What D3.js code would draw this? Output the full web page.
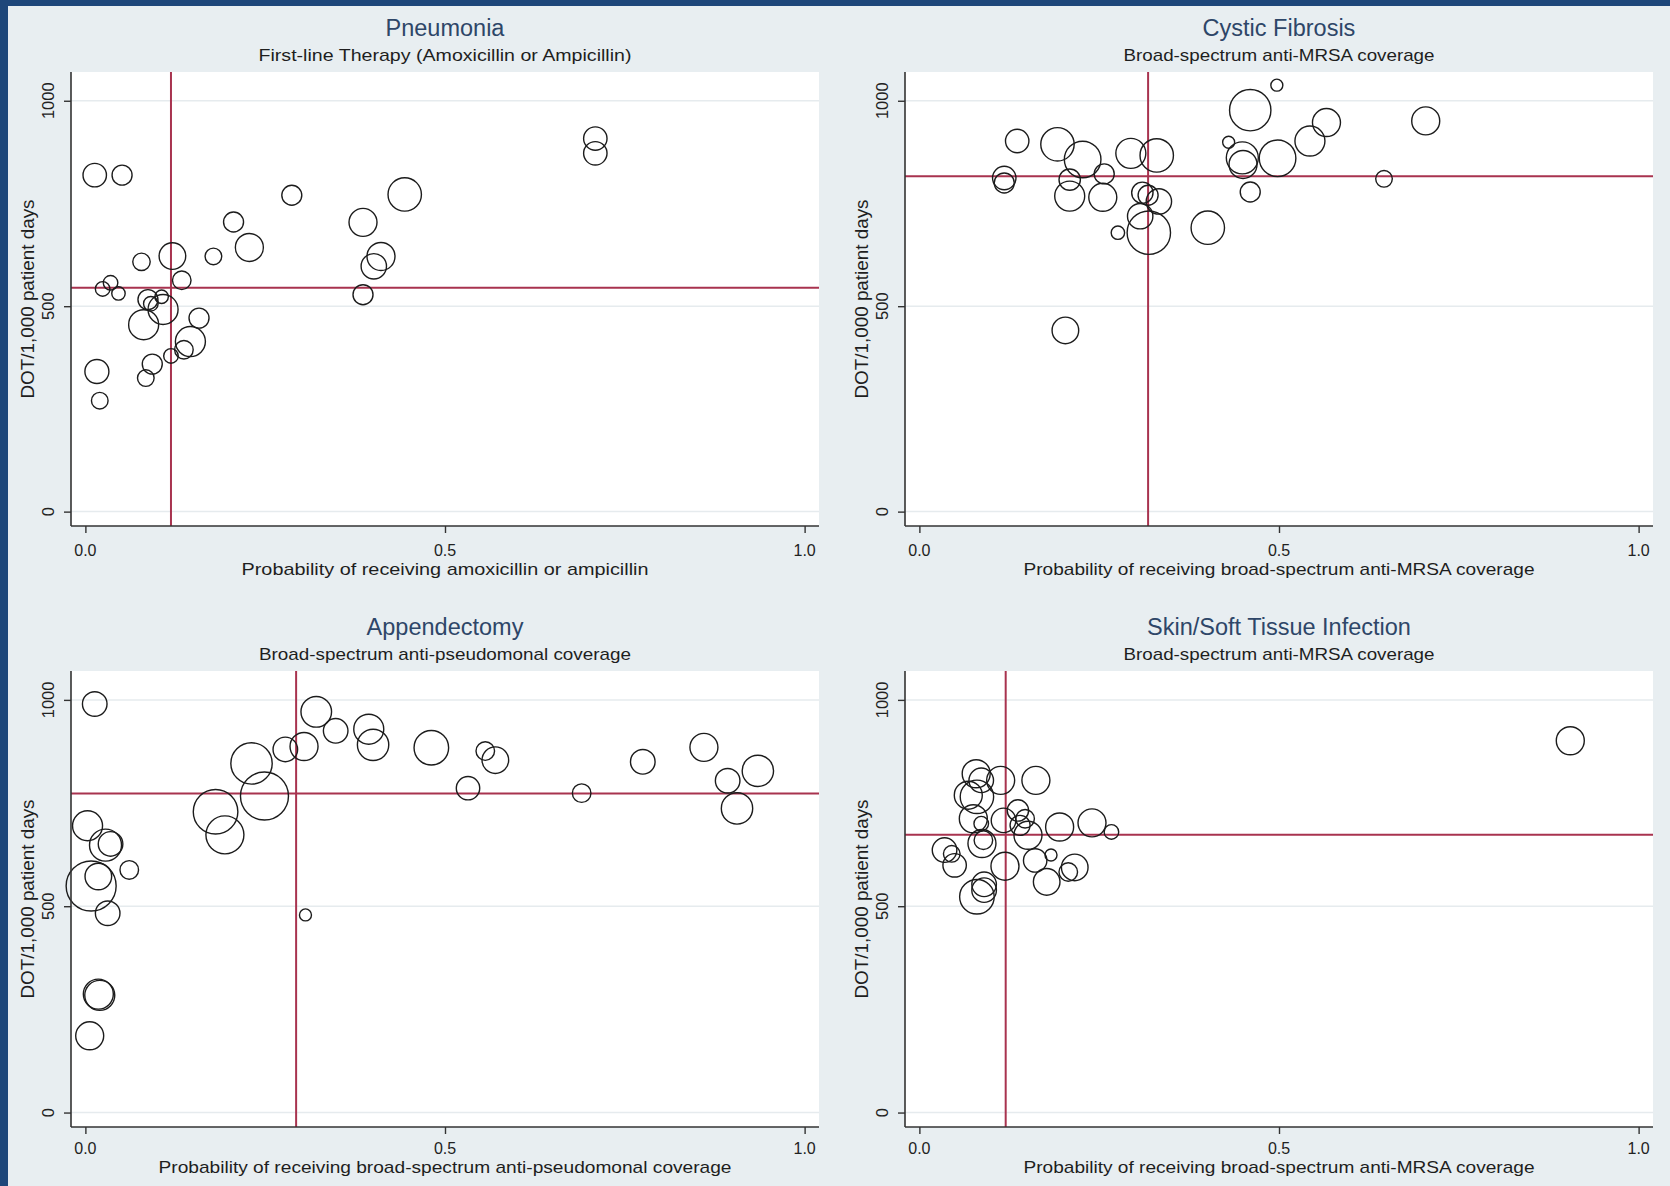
<!DOCTYPE html>
<html>
<head>
<meta charset="utf-8">
<script src="https://cdn.jsdelivr.net/npm/d3@7"></script>
<style>
  html, body { margin: 0; padding: 0; background: #e8eef1; }
  svg { display: block; }
  text { font-family: "Liberation Sans", Arial, sans-serif; }
</style>
</head>
<body>
<svg id="chart" width="1670" height="1186"></svg>
<script>
// ---- panel text ----
const panelTitles = ["Pneumonia", "Cystic Fibrosis", "Appendectomy", "Skin/Soft Tissue Infection"];
const panelSubtitles = [
  "First-line Therapy (Amoxicillin or Ampicillin)",
  "Broad-spectrum anti-MRSA coverage",
  "Broad-spectrum anti-pseudomonal coverage",
  "Broad-spectrum anti-MRSA coverage"
];
const xAxisTitles = [
  "Probability of receiving amoxicillin or ampicillin",
  "Probability of receiving broad-spectrum anti-MRSA coverage",
  "Probability of receiving broad-spectrum anti-pseudomonal coverage",
  "Probability of receiving broad-spectrum anti-MRSA coverage"
];
const yAxisTitle = "DOT/1,000 patient days";

// ---- ticks ----
const xTicks = [0, 0.5, 1];
const xTickLabels = ["0.0", "0.5", "1.0"];
const yTicks = [0, 500, 1000];
const yTickLabels = ["0", "500", "1000"];

// ---- reference lines (vertical = probability, horizontal = DOT) ----
const refProb = [0.119, 0.318, 0.293, 0.120];
const refDot = [545, 816, 773, 673];

// ---- hospitals: probability, DOT/1,000 patient days, weight ----
const pneumoniaProb = [0.013, 0.051, 0.287, 0.206, 0.228, 0.178, 0.121, 0.078, 0.134, 0.035, 0.024, 0.046, 0.087, 0.091, 0.106, 0.108, 0.081, 0.158, 0.146, 0.137, 0.119, 0.093, 0.084, 0.016, 0.020, 0.444, 0.386, 0.411, 0.401, 0.386, 0.709, 0.709];
const pneumoniaDot  = [819, 819, 770, 705, 643, 621, 622, 608, 563, 557, 542, 531, 516, 506, 523, 492, 455, 471, 414, 394, 379, 359, 325, 341, 270, 772, 704, 621, 597, 528, 908, 872];
const pneumoniaWt   = [137, 100, 100, 100, 196, 69, 177, 76, 86, 53, 53, 45, 100, 53, 45, 225, 225, 100, 225, 86, 53, 100, 69, 144, 69, 279, 196, 196, 161, 100, 137, 137];

const cfProb = [0.136, 0.192, 0.227, 0.257, 0.294, 0.330, 0.118, 0.118, 0.209, 0.209, 0.255, 0.310, 0.318, 0.333, 0.307, 0.319, 0.276, 0.401, 0.203, 0.497, 0.460, 0.566, 0.704, 0.543, 0.430, 0.449, 0.450, 0.498, 0.460, 0.646];
const cfDot  = [902, 894, 857, 822, 872, 867, 812, 800, 808, 768, 765, 776, 770, 755, 719, 679, 679, 691, 441, 1038, 977, 947, 951, 902, 899, 861, 845, 860, 778, 810];
const cfWt   = [137, 279, 335, 100, 225, 279, 137, 100, 114, 225, 196, 114, 100, 161, 161, 471, 45, 279, 177, 36, 428, 196, 196, 225, 36, 256, 196, 335, 100, 69];

const appyProb = [0.013, 0.231, 0.278, 0.304, 0.321, 0.249, 0.181, 0.194, 0.003, 0.028, 0.035, 0.061, 0.008, 0.018, 0.031, 0.306, 0.018, 0.020, 0.006, 0.348, 0.394, 0.400, 0.481, 0.556, 0.570, 0.532, 0.690, 0.775, 0.860, 0.893, 0.935, 0.906];
const appyDot  = [990, 846, 880, 887, 971, 767, 729, 673, 695, 648, 651, 588, 549, 572, 483, 479, 287, 284, 186, 925, 929, 891, 884, 876, 854, 786, 774, 850, 885, 804, 828, 737];
const appyWt   = [151, 428, 151, 196, 234, 576, 497, 361, 225, 256, 151, 86, 625, 177, 151, 36, 225, 225, 196, 151, 225, 246, 299, 86, 177, 137, 86, 151, 196, 151, 246, 246];

const sstiProb = [0.079, 0.086, 0.113, 0.162, 0.068, 0.080, 0.075, 0.086, 0.117, 0.137, 0.147, 0.140, 0.151, 0.195, 0.240, 0.267, 0.087, 0.089, 0.035, 0.045, 0.049, 0.119, 0.161, 0.183, 0.216, 0.207, 0.177, 0.090, 0.090, 0.080, 0.905];
const sstiDot  = [821, 805, 805, 805, 769, 765, 712, 700, 708, 732, 712, 696, 672, 692, 702, 680, 652, 660, 636, 627, 599, 597, 611, 624, 594, 583, 559, 553, 539, 523, 901];
const sstiWt   = [196, 151, 196, 196, 196, 279, 196, 53, 151, 114, 86, 100, 196, 196, 196, 53, 196, 86, 151, 69, 137, 196, 137, 36, 177, 86, 177, 151, 151, 299, 196];

const panelData = [
  { prob: pneumoniaProb, dot: pneumoniaDot, wt: pneumoniaWt },
  { prob: cfProb, dot: cfDot, wt: cfWt },
  { prob: appyProb, dot: appyDot, wt: appyWt },
  { prob: sstiProb, dot: sstiDot, wt: sstiWt }
];

// ---- layout ----
const W = 1670, H = 1186;
const colLeft = [71, 905];
const plotW = 748;
const rowTop = [72, 671];
const rowBottom = [526, 1127];
const tickLabelGap = [30, 26.5];
const xTitleGap = [49, 46];
const subtitleWidth = [373, 311, 372, 311];
const xTitleWidth = [407, 511, 573, 511];

const svg = d3.select("#chart");

// slide background and frame
svg.append("rect").attr("width", W).attr("height", H).attr("fill", "#e8eef1");
svg.append("rect").attr("x", 0).attr("y", 0).attr("width", 8).attr("height", H).attr("fill", "#1e477a");
svg.append("rect").attr("x", 0).attr("y", 0).attr("width", W).attr("height", 6).attr("fill", "#1e477a");

const rScale = d3.scaleSqrt().domain([0, 600]).range([0, Math.sqrt(600)]);

panelData.forEach((d, i) => {
  const col = i % 2, row = Math.floor(i / 2);
  const left = colLeft[col], right = left + plotW;
  const top = rowTop[row], bottom = rowBottom[row];
  const cx = (left + right) / 2;

  const x = d3.scaleLinear().domain([-0.02, 1.02]).range([left, right]);
  const y = d3.scaleLinear().domain([-35, 1070]).range([bottom, top]);

  const g = svg.append("g");

  // plot region
  g.append("rect").attr("x", left).attr("y", top)
    .attr("width", right - left).attr("height", bottom - top).attr("fill", "#ffffff");

  // grid lines
  g.selectAll(".grid").data(yTicks).enter().append("line")
    .attr("x1", left).attr("x2", right)
    .attr("y1", v => y(v)).attr("y2", v => y(v))
    .attr("stroke", "#e6ebee").attr("stroke-width", 1.5);

  // reference lines
  g.append("line").attr("x1", x(refProb[i])).attr("x2", x(refProb[i]))
    .attr("y1", top).attr("y2", bottom)
    .attr("stroke", "#a8334f").attr("stroke-width", 2);
  g.append("line").attr("x1", left).attr("x2", right)
    .attr("y1", y(refDot[i])).attr("y2", y(refDot[i]))
    .attr("stroke", "#a8334f").attr("stroke-width", 2);

  // bubbles
  const pts = d.prob.map((p, k) => ({ p, v: d.dot[k], w: d.wt[k] }));
  g.selectAll(".bubble").data(pts).enter().append("circle")
    .attr("cx", q => x(q.p)).attr("cy", q => y(q.v)).attr("r", q => rScale(q.w))
    .attr("fill", "none").attr("stroke", "#1c1c1c").attr("stroke-width", 1.4);

  // x axis
  const xAxis = d3.axisBottom(x).tickValues(xTicks).tickSize(7).tickFormat(() => "");
  const gx = g.append("g").attr("transform", `translate(0,${bottom})`).call(xAxis);
  gx.select(".domain").remove();
  gx.selectAll(".tick line").attr("stroke", "#333").attr("stroke-width", 1.4);
  g.append("line").attr("x1", left).attr("x2", right).attr("y1", bottom).attr("y2", bottom)
    .attr("stroke", "#333").attr("stroke-width", 1.6);
  g.selectAll(".xtl").data(xTicks).enter().append("text")
    .attr("x", v => x(v)).attr("y", bottom + tickLabelGap[row])
    .attr("text-anchor", "middle").attr("font-size", 16).attr("fill", "#222")
    .text((v, k) => xTickLabels[k]);

  // y axis
  const yAxis = d3.axisLeft(y).tickValues(yTicks).tickSize(7).tickFormat(() => "");
  const gy = g.append("g").attr("transform", `translate(${left},0)`).call(yAxis);
  gy.select(".domain").remove();
  gy.selectAll(".tick line").attr("stroke", "#333").attr("stroke-width", 1.4);
  g.append("line").attr("x1", left).attr("x2", left).attr("y1", top).attr("y2", bottom)
    .attr("stroke", "#333").attr("stroke-width", 1.6);
  g.selectAll(".ytl").data(yTicks).enter().append("text")
    .attr("transform", v => `translate(${left - 17},${y(v)}) rotate(-90)`)
    .attr("text-anchor", "middle").attr("font-size", 16.5).attr("fill", "#222")
    .text((v, k) => yTickLabels[k]);

  // titles
  g.append("text").attr("x", cx).attr("y", top - 36)
    .attr("text-anchor", "middle").attr("font-size", 23.5).attr("fill", "#2e4668")
    .text(panelTitles[i]);
  g.append("text").attr("x", cx).attr("y", top - 11)
    .attr("text-anchor", "middle").attr("font-size", 17).attr("fill", "#1e1e1e")
    .attr("textLength", subtitleWidth[i]).attr("lengthAdjust", "spacingAndGlyphs")
    .text(panelSubtitles[i]);

  // axis titles
  g.append("text").attr("x", cx).attr("y", bottom + xTitleGap[row])
    .attr("text-anchor", "middle").attr("font-size", 17).attr("fill", "#1e1e1e")
    .attr("textLength", xTitleWidth[i]).attr("lengthAdjust", "spacingAndGlyphs")
    .text(xAxisTitles[i]);
  g.append("text")
    .attr("transform", `translate(${left - 37},${(top + bottom) / 2}) rotate(-90)`)
    .attr("text-anchor", "middle").attr("font-size", 17.5).attr("fill", "#1e1e1e")
    .attr("textLength", 199).attr("lengthAdjust", "spacingAndGlyphs")
    .text(yAxisTitle);
});
</script>
</body>
</html>
